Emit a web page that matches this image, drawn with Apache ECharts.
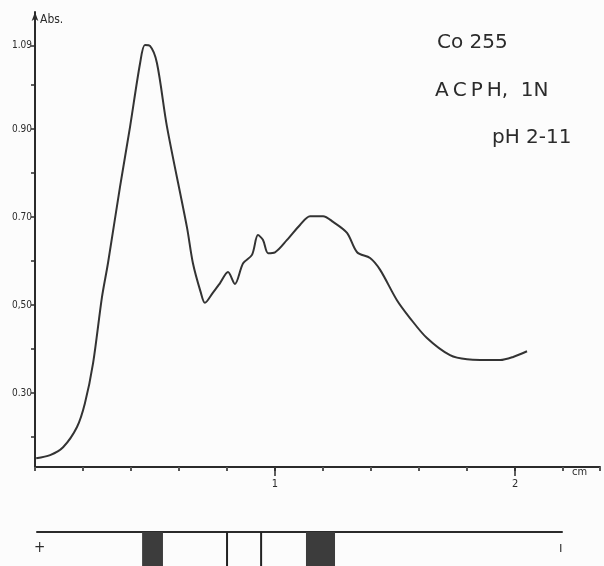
<!DOCTYPE html>
<html>
<head>
<meta charset="utf-8">
<script src="https://cdn.jsdelivr.net/npm/echarts@6/dist/echarts.min.js"></script>
<style>html,body{margin:0;padding:0;background:#fcfcfc;}#c{width:604px;height:566px;}</style>
</head>
<body>
<div id="c"></div>
<script>
// absorbance curve (distance in cm, absorbance)
const distCm = [0.005,0.063,0.117,0.175,0.208,0.242,0.279,0.304,0.354,0.396,0.438,0.458,0.479,0.508,0.550,0.633,0.658,0.690,0.708,0.740,0.771,0.804,0.833,0.867,0.904,0.929,0.950,0.971,1.000,1.050,1.104,1.146,1.200,1.242,1.300,1.342,1.396,1.438,1.508,1.563,1.633,1.729,1.800,1.938,1.992,2.050];
const absorb = [0.152,0.159,0.177,0.223,0.277,0.368,0.518,0.595,0.768,0.905,1.050,1.091,1.089,1.050,0.905,0.677,0.595,0.530,0.505,0.527,0.550,0.575,0.548,0.595,0.614,0.659,0.648,0.618,0.620,0.648,0.682,0.702,0.702,0.689,0.664,0.620,0.607,0.580,0.511,0.470,0.425,0.386,0.377,0.375,0.382,0.395];
// y axis ticks / labels
const yTickValues = [0.2,0.3,0.4,0.5,0.6,0.7,0.8,0.9,1.0,1.09];
const yLabelValues = [0.30,0.50,0.70,0.90,1.09];
const yTickLabels = ['0.30','0,50','0.70','0.90','1.09'];
// x axis labels
const xLabelValues = [1,2];
const xTickLabels = ['1','2'];
// electrophoresis strip: dark bands [start,end] and thin lines (cm)
const bandStart = [0.446,1.129];
const bandEnd = [0.533,1.250];
const thinLines = [0.800,0.942];
// annotations
const titleLines = ['Co 255','A\u2009C\u2009P\u2009H,  1N','pH 2-11'];

const ink = '#2b2b2b';
const chart = echarts.init(document.getElementById('c'));
const fontC = "'DejaVu Sans Condensed','DejaVu Sans',sans-serif";

const bandData = bandStart.map((s,i)=>[s,bandEnd[i]]);
const lineData = thinLines.map(v=>[v]);

chart.setOption({
  backgroundColor:'#fcfcfc',
  animation:false,
  grid:[
    {left:35, top:12, width:565, height:455, containLabel:false},
    {left:37, top:532, width:525, height:34, containLabel:false}
  ],
  xAxis:[
    {gridIndex:0, type:'value', min:0, max:2.354, interval:0.2,
     axisLine:{lineStyle:{color:ink,width:2}},
     axisTick:{show:true, length:4, lineStyle:{color:'#555',width:2}, interval:0},
     axisLabel:{customValues:xLabelValues, formatter:(v)=>{const i=xLabelValues.findIndex(x=>Math.abs(x-v)<1e-6);return i>=0?xTickLabels[i]:'';}, color:ink, fontSize:11, margin:12, fontFamily:fontC},
     splitLine:{show:false}},
    {gridIndex:0, type:'value', min:0, max:2.354, position:'bottom',
     axisLine:{show:false},
     axisTick:{show:true, customValues:xLabelValues, length:9, lineStyle:{color:ink,width:1.5}},
     axisLabel:{show:false}, splitLine:{show:false}},
    {gridIndex:1, type:'value', min:0.008, max:2.196, position:'top',
     axisLine:{onZero:false, lineStyle:{color:ink,width:2}},
     axisTick:{show:false}, axisLabel:{show:false}, splitLine:{show:false}}
  ],
  yAxis:[
    {gridIndex:0, type:'value', min:0.132, max:1.166,
     axisLine:{show:true, lineStyle:{color:ink,width:2}, symbol:['none','arrow'], symbolSize:[5,9]},
     axisTick:{show:true, customValues:yTickValues, length:4, lineStyle:{color:ink,width:1.5}},
     axisLabel:{customValues:yLabelValues, formatter:(v)=>{const i=yLabelValues.findIndex(x=>Math.abs(x-v)<1e-6);return i>=0?yTickLabels[i]:'';}, color:ink, fontSize:10, margin:3, fontFamily:fontC},
     splitLine:{show:false}},
    {gridIndex:1, type:'value', min:0, max:1, show:false}
  ],
  series:[
    {type:'line', xAxisIndex:0, yAxisIndex:0, data:distCm.map((x,i)=>[x,absorb[i]]),
     smooth:0.3, symbol:'none', lineStyle:{color:'#333',width:2}},
    {type:'custom', xAxisIndex:2, yAxisIndex:1, data:bandData,
     renderItem:(params,api)=>{
       const p1=api.coord([api.value(0),1]); const p2=api.coord([api.value(1),0]);
       return {type:'rect', shape:{x:p1[0],y:p1[1],width:p2[0]-p1[0],height:p2[1]-p1[1]}, style:{fill:'#3c3c3c'}};
     }},
    {type:'custom', xAxisIndex:2, yAxisIndex:1, data:lineData,
     renderItem:(params,api)=>{
       const p1=api.coord([api.value(0),1]); const p2=api.coord([api.value(0),0]);
       return {type:'line', shape:{x1:p1[0],y1:p1[1],x2:p2[0],y2:p2[1]}, style:{stroke:'#222',lineWidth:2}};
     }}
  ],
  graphic:[
    {type:'text', left:40, top:14, style:{text:'Abs.', fontSize:12, fill:ink, fontFamily:fontC}},
    {type:'text', left:572, top:467, style:{text:'cm', fontSize:11, fill:ink, fontFamily:fontC}},
    {type:'text', left:437, top:33, style:{text:titleLines[0], fontSize:20, fill:ink, fontFamily:"'DejaVu Sans',sans-serif"}},
    {type:'text', left:435, top:81, style:{text:titleLines[1], fontSize:20, fill:ink, fontFamily:"'DejaVu Sans',sans-serif"}},
    {type:'text', left:492, top:128, style:{text:titleLines[2], fontSize:20, fill:ink, fontFamily:"'DejaVu Sans',sans-serif"}},
    {type:'text', left:34, top:541, style:{text:'+', fontSize:15, fill:ink, fontFamily:fontC}},
    {type:'text', left:559, top:541, style:{text:'ı', fontSize:14, fill:ink, fontFamily:fontC}}
  ]
});
</script>
</body>
</html>
